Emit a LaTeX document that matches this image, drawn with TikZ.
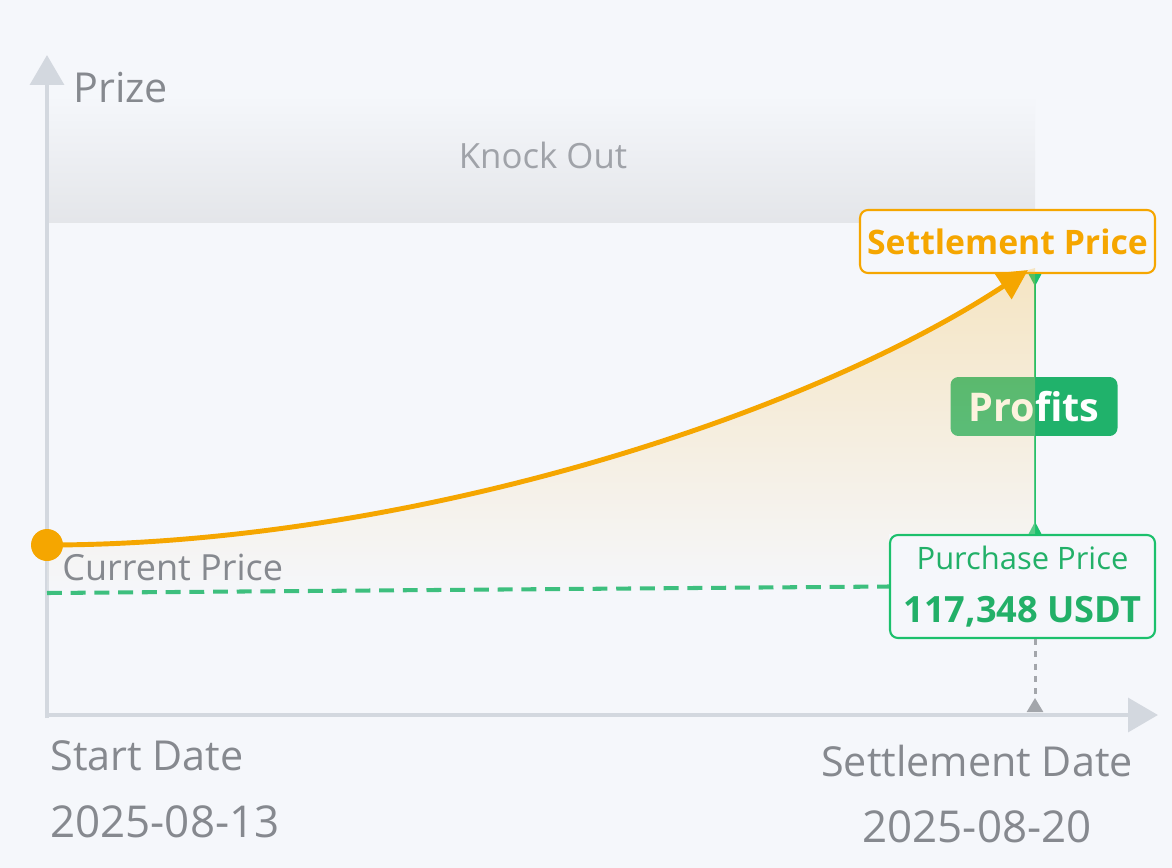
\documentclass[tikz,border=0pt]{standalone}
\usepackage{fontspec}
\setmainfont{Open Sans}
\usetikzlibrary{arrows.meta}

\definecolor{bgc}{HTML}{F5F7FB}
\definecolor{axisc}{HTML}{D3D8DF}
\definecolor{greyc}{HTML}{86898F}
\definecolor{kogrey}{HTML}{A0A3A9}
\definecolor{orangec}{HTML}{F5A600}
\definecolor{greenc}{HTML}{1CC06C}
\definecolor{dashgreen}{HTML}{3DBF7E}
\definecolor{textgreen}{HTML}{22B068}
\definecolor{profgreen}{HTML}{20B26B}
\definecolor{tickgrey}{HTML}{A3A6AB}

\begin{document}
\begin{tikzpicture}[x=0.02cm,y=-0.02cm,>=Triangle,
  axis line/.style={draw=axisc,line width=2.8pt,-{Triangle[length=17pt,width=19pt]}},
  grey text/.style={text=greyc,inner sep=0pt,font=\fontsize{23.5pt}{28pt}\selectfont},
  date text/.style={grey text,font=\fontsize{25pt}{30pt}\selectfont},
  price box/.style={draw,line width=1.2pt,rounded corners=4.5pt,fill=bgc,inner sep=0pt,align=center}]

  \fill[bgc] (0,0) rectangle (1172,868);
  \useasboundingbox (0,0) rectangle (1172,868);

  \coordinate (o) at (47,715);
  \coordinate (ytop) at (47,55);
  \coordinate (xend) at (1158,715);
  \coordinate (tip) at (1028,270);
  \coordinate (tick) at (1035,712);

  % knock out band
  \shade[top color=bgc,bottom color=black!7!bgc] (49,95) rectangle (1035,222);
  \node[text=kogrey,inner sep=0pt,anchor=base,font=\fontsize{19.8pt}{24pt}\selectfont] (ko) at (543,169) {Knock Out};

  \node[grey text,anchor=base west] (prize) at (73,103) {Prize};

  \draw[axis line] (47,718) -- (ytop);
  \draw[axis line] (45,715) -- (xend);

  \node[price box,draw=orangec,text=orangec,minimum width=5.9cm,minimum height=1.26cm,
    font=\bfseries\fontsize{19.2pt}{23pt}\selectfont] (set) at (1007.5,241.5) {Settlement Price};
  \node[price box,draw=greenc,text=textgreen,minimum width=5.3cm,minimum height=2.06cm] (buy) at (1022.5,586.5)
    {{\fontsize{17.6pt}{28pt}\selectfont Purchase Price}\\[14pt]{\bfseries\fontsize{20.6pt}{28pt}\selectfont 117,348 USDT}};

  \draw[greenc,line width=1.2pt,{Triangle[reversed,length=7pt,width=7pt]}-{Triangle[reversed,length=7pt,width=7pt]}]
    (set.south -| tick) -- (buy.north -| tick);
  \node[fill=profgreen,text=white,rounded corners=4.5pt,
    minimum width=3.34cm,minimum height=1.18cm,inner sep=0pt,
    font=\bfseries\fontsize{22.5pt}{27pt}\selectfont] (prof) at (1034,406.5) {Profits};

  % area under the curve
  \shade[fill opacity=0.28,shading angle=-50,top color=orangec!80!white,bottom color=bgc]
    (47,545) .. controls (400,545) and (800,420) .. (1028,270) -- (1035,268)
    -- (buy.north -| tick) -- (buy.north west) -- (buy.west) -- (47,593) -- cycle;

  \node[grey text,anchor=base west,font=\fontsize{20.5pt}{24pt}\selectfont] (cur) at (62,580) {Current Price};
  \node[circle,fill=orangec,minimum size=0.64cm,inner sep=0pt] (dot) at (47,545) {};

  \draw[dashgreen,line width=2.3pt,dash pattern=on 8.5pt off 5pt] (47,593) -- (buy.west);

  \draw[orangec,line width=2.8pt,-{Triangle[length=17pt,width=17pt]}]
    (dot.center) .. controls (400,545) and (800,420) .. (tip);

  \draw[tickgrey,line width=1.7pt,dash pattern=on 3.5pt off 3.5pt,-{Triangle[reversed,length=8pt,width=9pt]}]
    (buy.south -| tick) -- (tick);

  \node[grey text,anchor=base west] (startd) at (50,770) {Start Date};
  \node[date text,anchor=base west] (startv) at (50,837) {2025-08-13};
  \node[grey text,anchor=base] (setd) at (977,776) {Settlement Date};
  \node[date text,anchor=base] (setv) at (977,842) {2025-08-20};
\end{tikzpicture}
\end{document}
